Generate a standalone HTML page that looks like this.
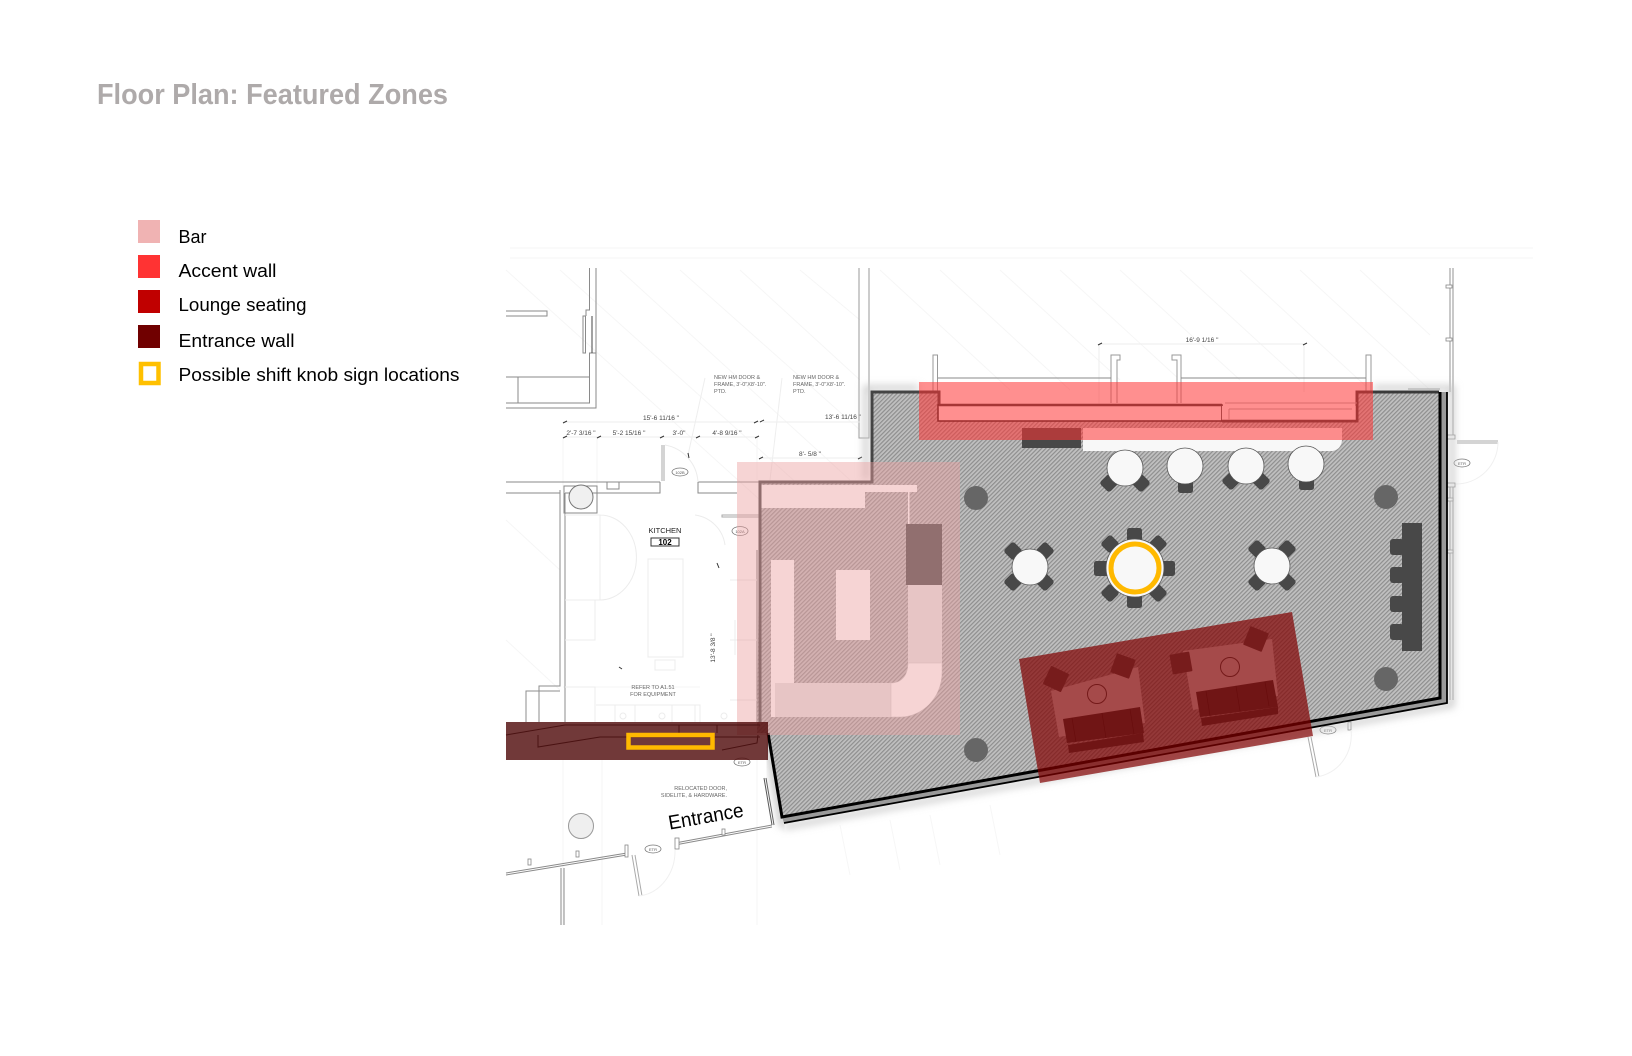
<!DOCTYPE html>
<html><head><meta charset="utf-8"><title>Floor Plan: Featured Zones</title>
<style>html,body{margin:0;padding:0;background:#fff}svg{display:block}text{font-family:"Liberation Sans",Arial,sans-serif}</style>
</head><body>
<svg xmlns="http://www.w3.org/2000/svg" width="1632" height="1056" viewBox="0 0 1632 1056">
<defs>
<pattern id="h" width="3" height="3" patternUnits="userSpaceOnUse" patternTransform="rotate(45)"><rect width="3" height="3" fill="#c0c0c0"/><rect width="1.2" height="3" fill="#8e8e8e"/></pattern>
<filter id="b" x="-10%" y="-10%" width="120%" height="120%"><feGaussianBlur stdDeviation="4"/></filter>
</defs>
<rect width="1632" height="1056" fill="#fff"/>
<!-- title and legend -->
<text x="97" y="104" font-size="29" font-weight="700" fill="#aeaaaa" textLength="351" lengthAdjust="spacingAndGlyphs">Floor Plan: Featured Zones</text>
<rect x="138" y="220" width="22" height="23" fill="#f0b3b3"/>
<rect x="138" y="255" width="22" height="23" fill="#ff3333"/>
<rect x="138" y="290" width="22" height="23" fill="#c00000"/>
<rect x="138" y="325" width="22" height="23" fill="#700000"/>
<rect x="141" y="364" width="17.500" height="19" fill="#fff" stroke="#ffc000" stroke-width="4.500"/>
<g font-size="18" fill="#000">
<text x="178.500" y="243" textLength="28" lengthAdjust="spacingAndGlyphs">Bar</text>
<text x="178.500" y="277" textLength="98" lengthAdjust="spacingAndGlyphs">Accent wall</text>
<text x="178.500" y="311" textLength="128" lengthAdjust="spacingAndGlyphs">Lounge seating</text>
<text x="178.500" y="347" textLength="116" lengthAdjust="spacingAndGlyphs">Entrance wall</text>
<text x="178.500" y="381" textLength="281" lengthAdjust="spacingAndGlyphs">Possible shift knob sign locations</text>
</g>
<!-- faint background lines -->
<g stroke="#f6f6f6" stroke-width="1" fill="none">
<path d="M510 248H1533M510 258H1533"/>
<path d="M506 270L760 500M560 270L860 540M620 270L850 480M680 270L860 430M740 270L860 380M800 270L860 320M880 270L1010 390M940 270L1070 390M1000 270L1120 380M1060 270L1180 380M1120 270L1240 380M1180 270L1300 380M1240 270L1370 390M1300 270L1430 390M1360 270L1430 335"/>
<path d="M506 520L560 570M506 640L560 690M563 687H700M563 437V490M597 437V490M757 437V480M563 760V925M602 760V925M757 760V925M840 825L850 875M890 820L900 870M930 815L940 865M990 805L1000 855"/>
</g>
<!-- plan upper left -->
<g fill="none" stroke="#8a8a8a" stroke-width="1">
<path d="M589.500 268V310H586V316M596 268V353H589.500V403H506M596 353V408H506M506 377H589.500M518 377V403M506 311H547V316H506M583 316V353H585.500V316Z"/>
<path d="M592 316V353" stroke="#444"/>
<path d="M859 268V438H869V268M859 438H869" stroke="#9a9a9a"/>
<path d="M506 482H660M506 493H560M565 493H660V482M698 482V493H737M698 482H760" stroke="#888"/>
<path d="M662 445V481M664 445V481" stroke="#aaa"/>
<rect x="564" y="486" width="33" height="27"/>
<rect x="607" y="482" width="12" height="7"/>
<path d="M560 490V686H539V722M565 493V722M526 722V691H560" stroke="#8d8d8d"/>
<path d="M722 515H760V517H722Z" stroke="#aaa"/>
<path d="M757 550V722" stroke="#777"/>
</g>
<circle cx="581" cy="497" r="12" fill="#f0f0f0" stroke="#777"/>
<g fill="none" stroke="#ececec" stroke-width="1">
<rect x="648" y="559" width="35" height="98"/>
<rect x="655" y="660" width="20" height="10"/>
<path d="M565 515H600V600H565M600 515A30 35 0 0 1 600 600M565 600H595V640H565"/>
<path d="M565 687H595V722M596 705H700V722M615 705V722M635 705V722M672 705V722M695 705V722"/>
<circle cx="623" cy="716" r="3"/><circle cx="662" cy="716" r="3"/><circle cx="724" cy="716" r="3"/>
<path d="M730 580H757M730 640H757M730 700H757M735 620V655"/>
<path d="M665 445A40 40 0 0 1 698 482M695 515A35 35 0 0 1 725 545"/>
</g>
<!-- dimension lines -->
<g fill="none" stroke="#eeeeee" stroke-width="1"><path d="M563 422H760M563 437H758M760 458H860M1099 344H1304M1099 344V410M1304 344V392M763 422H860M705 378L688 455M782 378L770 480"/></g>
<g fill="none" stroke="#333" stroke-width="1"><path d="M563 423l4-2M563 438l4-2M597 438l4-2M660 438l4-2M696 438l4-2M755 438l4-2M754 423l4-2M760 422l4-2M759 459l4-2M858 459l4-2M1098 345l4-2M1303 345l4-2M688 453l1 5M717 563l2 5M619 667l3 2"/></g>
<!-- plan labels -->
<g font-size="6.500" fill="#444">
<text x="661" y="420" text-anchor="middle">15'-6 11/16 "</text>
<text x="581" y="435" text-anchor="middle">2'-7 3/16 "</text>
<text x="629" y="435" text-anchor="middle">5'-2 15/16 "</text>
<text x="679" y="435" text-anchor="middle">3'-0"</text>
<text x="727" y="435" text-anchor="middle">4'-8 9/16 "</text>
<text x="843" y="419" text-anchor="middle">13'-6 11/16 "</text>
<text x="810" y="456" text-anchor="middle">8'- 5/8 "</text>
<text x="1202" y="342" text-anchor="middle">16'-9 1/16 "</text>
<g font-size="5.500" fill="#666">
<text x="714" y="379">NEW  HM  DOOR &amp;</text><text x="714" y="386">FRAME, 3'-0"X8'-10".</text><text x="714" y="393">PTD.</text>
<text x="793" y="379">NEW  HM  DOOR &amp;</text><text x="793" y="386">FRAME, 3'-0"X8'-10".</text><text x="793" y="393">PTD.</text>
<text x="727" y="790" text-anchor="end">RELOCATED  DOOR,</text><text x="727" y="797" text-anchor="end">SIDELITE, &amp;  HARDWARE.</text>
<text x="653" y="689" text-anchor="middle">REFER  TO  A1.51</text><text x="653" y="696" text-anchor="middle">FOR  EQUIPMENT</text>
</g>
<text x="665" y="533" text-anchor="middle" font-size="7.500" fill="#222">KITCHEN</text>
<text x="665" y="545" text-anchor="middle" font-size="8" font-weight="700" fill="#000">102</text>
<text transform="translate(715,648) rotate(-90)" text-anchor="middle">13'-8 3/8 "</text>
</g>
<rect x="651" y="538" width="28" height="8" fill="none" stroke="#333" stroke-width="1"/>
<g fill="#fff" stroke="#777" stroke-width="0.800">
<ellipse cx="680" cy="472" rx="8" ry="4"/><ellipse cx="740" cy="531" rx="8" ry="4.500"/><ellipse cx="742" cy="762" rx="8" ry="4"/><ellipse cx="653" cy="849" rx="8" ry="4"/><ellipse cx="1328" cy="730" rx="8" ry="4"/><ellipse cx="1462" cy="463" rx="8" ry="4"/>
</g>
<g font-size="4" fill="#555" text-anchor="middle"><text x="680" y="474">102B</text><text x="740" y="533">102A</text><text x="742" y="764">ETR</text><text x="653" y="851">ETR</text><text x="1328" y="732">ETR</text><text x="1462" y="465">ETR</text></g>
<!-- plan lower left -->
<circle cx="581" cy="826" r="12.500" fill="#efefef" stroke="#999"/>
<g fill="none" stroke="#8a8a8a" stroke-width="1">
<path d="M506 873L627 853M506 875L627 855M675 843L772 825M675 845L772 827"/>
<path d="M561 868V925M564 868V925"/>
<path d="M632 855L639 896M635 855L642 896" stroke="#aaa"/>
<path d="M764 778L772 825M766 778L774 825" stroke="#555"/>
<path d="M1308 737L1316 777M1311 737L1319 777" stroke="#aaa"/>
<path d="M1457 441H1498M1457 443H1498" stroke="#aaa"/>
<path d="M1450 268V392M1453 268V436M1450 485V700M1453 485V700" stroke-width="1.200" stroke="#a5a5a5"/>
<path d="M1408 389H1440"/>
</g>
<g fill="#fff" stroke="#888" stroke-width="0.800">
<rect x="528" y="859" width="3" height="6"/><rect x="576" y="851" width="3" height="6"/><rect x="625" y="845" width="3" height="12"/><rect x="675" y="838" width="4" height="11"/><rect x="722" y="829" width="3" height="6"/>
<rect x="1446" y="285" width="6" height="3"/><rect x="1446" y="338" width="6" height="3"/><rect x="1447" y="435" width="8" height="4"/><rect x="1447" y="483" width="8" height="4"/><rect x="1447" y="498" width="6" height="3"/><rect x="1447" y="550" width="6" height="3"/>
<rect x="1348" y="722" width="3" height="8"/>
</g>
<g fill="none" stroke="#f0f0f0"><path d="M1498 442A42 42 0 0 1 1456 484M639 896A40 45 0 0 0 675 850M1316 777A40 42 0 0 0 1351 730"/></g>
<!-- upper wall stubs -->
<g fill="#fff" stroke="#999" stroke-width="1">
<path d="M933 392V355H937.500V392"/>
<path d="M1111 403V355H1120V360H1117V403"/>
<path d="M1181 403V355H1172V360H1177V403"/>
<path d="M1366 392V355H1371V392"/>
</g>
<path d="M938 378H1111M1181 378H1366" stroke="#888" stroke-width="1" fill="none"/>
<!-- shadow -->
<path d="M866 480V388H919M1373 388H1452V705L784 827" fill="none" stroke="#c8c8c8" stroke-width="5" filter="url(#b)"/>
<path d="M768 740L783 826" fill="none" stroke="#c8c8c8" stroke-width="8" filter="url(#b)"/>
<!-- room -->
<polygon points="1439,392 1447,392 1447,703 784,823 782,817 1439,698" fill="#9a9a9a"/>
<polygon points="871,392 939,392 939,421 1357,421 1357,392 1439,392 1439,698 782,817 768,733 757,733 760,482 871,482" fill="url(#h)"/>
<!-- bar contents under overlay -->
<rect x="760" y="485" width="105" height="23" fill="#fff"/>
<rect x="865" y="485" width="52" height="7" fill="#fff"/>
<rect x="908" y="492" width="1.500" height="32" fill="#fff"/>
<rect x="906" y="524" width="36" height="61" fill="#484848"/>
<rect x="771" y="560" width="23" height="123" fill="#fff"/>
<rect x="836" y="570" width="34" height="70" fill="#fff"/>
<rect x="908" y="585" width="34" height="78" fill="#e4e4e4"/>
<rect x="775" y="683" width="116" height="34" fill="#e4e4e4"/>
<path d="M891 683C902 683 908 675 908 663H942V672C942 698 922 717 900 717H891Z" fill="#fff" stroke="#c8c8c8" stroke-width="0.500"/>
<rect x="771" y="683" width="4" height="34" fill="#fff"/>
<!-- walls -->
<g fill="none" stroke="#444" stroke-width="3">
<path d="M760 722L760 482H872V392H939V405"/>
<path d="M1222 421H1357V392H1439"/>
</g>
<rect x="938" y="405" width="284" height="16" fill="#fff" stroke="#222" stroke-width="1.500"/>
<rect x="1222" y="406" width="135" height="15" fill="#fff"/>
<path d="M939 405H1222M1222 421H1357V392H1439" fill="none" stroke="#3a3a3a" stroke-width="2.500"/>
<path d="M1225 403H1357M1229 409V420M1229 409H1352" stroke="#b0b0b0" stroke-width="1" fill="none"/>
<path d="M1440 392V698L782 817L768 733" fill="none" stroke="#000" stroke-width="3"/>
<path d="M1447 392V703L784 823" fill="none" stroke="#000" stroke-width="1.800"/>
<!-- counter and furniture -->
<path d="M1083 428H1342V439C1342 446 1338 451 1331 451H1083Z" fill="#f8f8f8"/>
<rect x="1022" y="428" width="59" height="20" fill="#484848"/>
<g fill="#484848">
<rect x="-7" y="-7" width="14" height="14" rx="3" transform="translate(1109 483) rotate(45)"/><rect x="-7" y="-7" width="14" height="14" rx="3" transform="translate(1141 483) rotate(45)"/>
<rect x="1178" y="480" width="15" height="13" rx="2.500"/>
<rect x="-7" y="-7" width="14" height="14" rx="3" transform="translate(1231 481) rotate(45)"/><rect x="-7" y="-7" width="14" height="14" rx="3" transform="translate(1261 481) rotate(45)"/>
<rect x="1299" y="477" width="15" height="13" rx="2.500"/>
<rect x="-7" y="-7" width="14" height="14" rx="3" transform="translate(1013 551) rotate(45)"/><rect x="-7" y="-7" width="14" height="14" rx="3" transform="translate(1045 551) rotate(45)"/><rect x="-7" y="-7" width="14" height="14" rx="3" transform="translate(1013 582) rotate(45)"/><rect x="-7" y="-7" width="14" height="14" rx="3" transform="translate(1045 582) rotate(45)"/>
<rect x="-7" y="-7" width="14" height="14" rx="3" transform="translate(1257 549) rotate(45)"/><rect x="-7" y="-7" width="14" height="14" rx="3" transform="translate(1287 549) rotate(45)"/><rect x="-7" y="-7" width="14" height="14" rx="3" transform="translate(1257 582) rotate(45)"/><rect x="-7" y="-7" width="14" height="14" rx="3" transform="translate(1287 582) rotate(45)"/>
<rect x="1127" y="528" width="15" height="16" rx="2.500"/><rect x="1127" y="592" width="15" height="16" rx="2.500"/><rect x="1094" y="561" width="16" height="15" rx="2.500"/><rect x="1159" y="561" width="16" height="15" rx="2.500"/>
<rect x="-7" y="-7" width="14" height="14" rx="3" transform="translate(1110 544) rotate(45)"/><rect x="-7" y="-7" width="14" height="14" rx="3" transform="translate(1158 544) rotate(45)"/><rect x="-7" y="-7" width="14" height="14" rx="3" transform="translate(1110 593) rotate(45)"/><rect x="-7" y="-7" width="14" height="14" rx="3" transform="translate(1158 593) rotate(45)"/>
<rect x="1402" y="523" width="20" height="128"/>
<rect x="1390" y="539" width="14" height="16" rx="3"/><rect x="1390" y="567" width="14" height="16" rx="3"/><rect x="1390" y="596" width="14" height="16" rx="3"/><rect x="1390" y="624" width="14" height="16" rx="3"/>
</g>
<g fill="#f8f8f8" stroke="#555" stroke-width="0.800">
<circle cx="1125" cy="468" r="18"/><circle cx="1185" cy="466" r="18"/><circle cx="1246" cy="466" r="18"/><circle cx="1306" cy="464" r="18"/><circle cx="1030" cy="567" r="18"/><circle cx="1272" cy="566" r="18"/><circle cx="1135" cy="568" r="29"/>
</g>
<circle cx="1135" cy="568" r="24" fill="none" stroke="#ffb900" stroke-width="5"/>
<g fill="#666"><circle cx="976" cy="498" r="12"/><circle cx="1386" cy="497" r="12"/><circle cx="1386" cy="679" r="12"/><circle cx="976" cy="750" r="12"/></g>
<!-- lounge contents -->
<g>
<polygon points="1051,691 1138,667 1145,723 1059,737" fill="#f8f8f8"/>
<polygon points="1183,651 1272,639 1278,696 1193,710" fill="#f8f8f8"/>
<g fill="#484848">
<polygon points="1063,719 1140,707 1144,733 1067,743"/><polygon points="1068,745 1143,733 1144,742 1069,753"/>
<polygon points="1196,692 1273,680 1278,707 1200,717"/><polygon points="1201,718 1278,707 1278,714 1202,726"/>
<rect x="-10" y="-10" width="20" height="20" rx="1" transform="translate(1056 679) rotate(25)" fill="#606060"/>
<rect x="-10" y="-10" width="20" height="20" rx="1" transform="translate(1123 666) rotate(20)" fill="#606060"/>
<rect x="-10" y="-10" width="20" height="20" rx="1" transform="translate(1181 663) rotate(-10)" fill="#606060"/>
<rect x="-10" y="-10" width="20" height="20" rx="1" transform="translate(1256 639) rotate(22)" fill="#606060"/>
</g>
<path d="M1102 713L1106 738M1072 718L1076 742M1130 709L1134 734M1236 686L1240 711M1206 691L1210 716M1265 682L1269 706" stroke="#2a2a2a" stroke-width="0.700" fill="none"/>
<circle cx="1097" cy="694" r="9.500" fill="none" stroke="#555"/><circle cx="1230" cy="667" r="9.500" fill="none" stroke="#555"/>
</g>
<!-- overlays -->
<rect x="919" y="382" width="454" height="58" fill="#ff3333" fill-opacity="0.550"/>
<rect x="737" y="462" width="223" height="273" fill="#ec9f9f" fill-opacity="0.450"/>
<polygon points="1019,659 1292,612 1313,736 1040,783" fill="#820000" fill-opacity="0.700"/>
<rect x="506" y="722" width="262" height="38" fill="#4d0808" fill-opacity="0.800"/>
<path d="M506 735L565 725H760M538 735V747L600 737H760M722 750L757 743L758 735M679 725V735M717 725V733" fill="none" stroke="#4a1212" stroke-width="1"/>
<rect x="628.500" y="735" width="84" height="12.500" fill="none" stroke="#ffb900" stroke-width="4.500"/>
<text transform="translate(707 823) rotate(-10)" text-anchor="middle" font-size="20" fill="#000" textLength="76" lengthAdjust="spacingAndGlyphs">Entrance</text>
</svg>
</body></html>
